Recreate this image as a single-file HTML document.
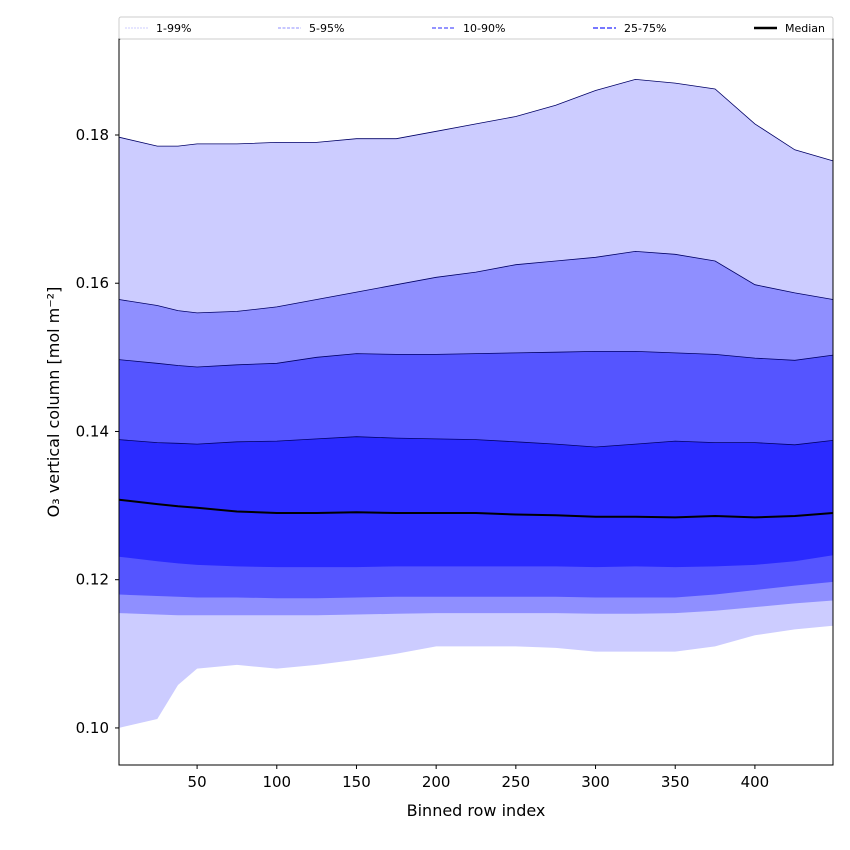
<!DOCTYPE html>
<html><head><meta charset="utf-8"><style>
body{margin:0;background:#fff;}
svg{display:block;font-family:"DejaVu Sans","Liberation Sans",sans-serif;}
</style></head><body>
<svg id="chart" width="850" height="850">
<g id="bands"></g>
<g id="axes"></g>
<g id="legend"></g>
</svg>
<script>
const xs = [1,25,38,50,75,100,125,150,175,200,225,250,275,300,325,350,375,400,425,449];
const p99 = [0.1797,0.1785,0.1785,0.1788,0.1788,0.1790,0.1790,0.1795,0.1795,0.1805,0.1815,0.1825,0.1840,0.1860,0.1875,0.1870,0.1862,0.1815,0.1780,0.1765];
const p95 = [0.1578,0.1570,0.1563,0.1560,0.1562,0.1568,0.1578,0.1588,0.1598,0.1608,0.1615,0.1625,0.1630,0.1635,0.1643,0.1639,0.1630,0.1598,0.1587,0.1578];
const p90 = [0.1497,0.1492,0.1489,0.1487,0.1490,0.1492,0.1500,0.1505,0.1504,0.1504,0.1505,0.1506,0.1507,0.1508,0.1508,0.1506,0.1504,0.1499,0.1496,0.1503];
const p75 = [0.1389,0.1385,0.1384,0.1383,0.1386,0.1387,0.1390,0.1393,0.1391,0.1390,0.1389,0.1386,0.1383,0.1379,0.1383,0.1387,0.1385,0.1385,0.1382,0.1388];
const median = [0.1308,0.1302,0.1299,0.1297,0.1292,0.1290,0.1290,0.1291,0.1290,0.1290,0.1290,0.1288,0.1287,0.1285,0.1285,0.1284,0.1286,0.1284,0.1286,0.1290];
const p25 = [0.1231,0.1225,0.1222,0.1220,0.1218,0.1217,0.1217,0.1217,0.1218,0.1218,0.1218,0.1218,0.1218,0.1217,0.1218,0.1217,0.1218,0.1220,0.1225,0.1233];
const p10 = [0.1180,0.1178,0.1177,0.1176,0.1176,0.1175,0.1175,0.1176,0.1177,0.1177,0.1177,0.1177,0.1177,0.1176,0.1176,0.1176,0.1180,0.1186,0.1192,0.1197];
const p5 = [0.1155,0.1153,0.1152,0.1152,0.1152,0.1152,0.1152,0.1153,0.1154,0.1155,0.1155,0.1155,0.1155,0.1154,0.1154,0.1155,0.1158,0.1163,0.1168,0.1172];
const p1 = [0.1000,0.1012,0.1058,0.1080,0.1085,0.1080,0.1085,0.1092,0.1100,0.1110,0.1110,0.1110,0.1108,0.1103,0.1103,0.1103,0.1110,0.1125,0.1133,0.1138];
const xTicks = [50,100,150,200,250,300,350,400];
const yTicks = [0.10,0.12,0.14,0.16,0.18];
const legendLabels = ["1-99%","5-95%","10-90%","25-75%","Median"];

const L=119,R=833,T=39,B=765, X0=1,X1=449, Y0=0.095,Y1=0.19295;
function sx(v){return L+(v-X0)/(X1-X0)*(R-L);}
function sy(v){return B-(v-Y0)/(Y1-Y0)*(B-T);}
const NS="http://www.w3.org/2000/svg";
function mk(tag,attrs,parent){const e=document.createElementNS(NS,tag);for(const k in attrs)e.setAttribute(k,attrs[k]);parent.appendChild(e);return e;}
function linePts(arr){return xs.map((x,i)=>sx(x).toFixed(1)+","+sy(arr[i]).toFixed(1));}

const bands=document.getElementById('bands');
const defs=[[p1,p99,'#ccccff','band-1-99'],[p5,p95,'#8f8fff','band-5-95'],[p10,p90,'#5555ff','band-10-90'],[p25,p75,'#2a2aff','band-25-75']];
defs.forEach(d=>{
  const pts=linePts(d[1]).concat(linePts(d[0]).reverse());
  const poly=mk('polygon',{points:pts.join(' '),fill:d[2]},bands);
  
  
  const up=mk('polyline',{points:linePts(d[1]).join(' '),fill:'none',stroke:'#000066','stroke-width':0.8},bands);
  
  
});
const med=mk('polyline',{points:linePts(median).join(' '),fill:'none',stroke:'#000','stroke-width':2},bands);



const ax=document.getElementById('axes');
const frame=mk('rect',{x:L,y:T,width:R-L,height:B-T,fill:'none',stroke:'#000','stroke-width':1},ax);


xTicks.forEach(t=>{
  const x=sx(t);
  mk('line',{x1:x,x2:x,y1:B,y2:B+4,stroke:'#000'},ax);
  const tx=mk('text',{x:x,y:B+22,'text-anchor':'middle','font-size':15},ax);
  tx.textContent=t;
  
  
});
yTicks.forEach(t=>{
  const y=sy(t);
  mk('line',{x1:L-4,x2:L,y1:y,y2:y,stroke:'#000'},ax);
  const tx=mk('text',{x:L-10,y:y+5,'text-anchor':'end','font-size':15},ax);
  tx.textContent=t.toFixed(2);
  
  
});
const xl=mk('text',{x:(L+R)/2,y:816,'text-anchor':'middle','font-size':16},ax);
xl.textContent='Binned row index';


const yl=mk('text',{x:0,y:0,'text-anchor':'middle','font-size':16,transform:'translate(59,'+((T+B)/2)+') rotate(-90)'},ax);
yl.textContent='O₃ vertical column [mol m⁻²]';



const lg=document.getElementById('legend');
mk('rect',{x:119,y:17,width:714,height:22,fill:'#fff',stroke:'#ccc','stroke-width':1,rx:2},lg);
const lx=[125,278,432,593,754];
const lstyle=[['#ccccff','2,1',1],['#8f8fff','3,1.5',1],['#5555ff','4,2',1.3],['#4a4aff','5,2',1.6],['#000','',2.5]];
legendLabels.forEach((lab,i)=>{
  const ln=mk('line',{x1:lx[i],x2:lx[i]+23,y1:28,y2:28,stroke:lstyle[i][0],'stroke-width':lstyle[i][2]},lg);
  if(lstyle[i][1])ln.setAttribute('stroke-dasharray',lstyle[i][1]);
  const tx=mk('text',{x:lx[i]+31,y:32,'font-size':11},lg);
  tx.textContent=lab;
  
  
});
</script>
</body></html>
